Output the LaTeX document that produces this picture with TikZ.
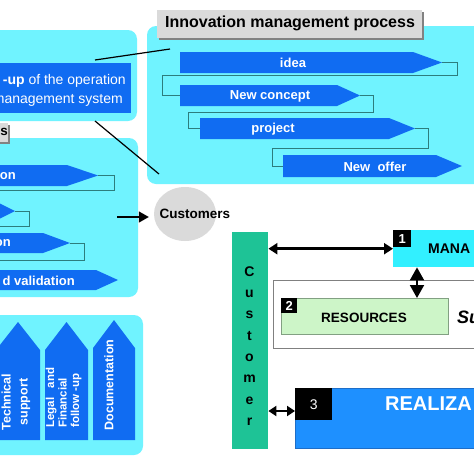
\documentclass[tikz,border=0pt]{standalone}
\usepackage{fontspec}
\setmainfont{Liberation Sans}
\usetikzlibrary{arrows.meta,shapes.geometric}
\definecolor{panelc}{RGB}{112,243,255}
\definecolor{chevc}{RGB}{16,108,242}
\definecolor{stepc}{RGB}{45,125,125}
\definecolor{labelc}{RGB}{218,218,218}
\definecolor{shadc}{RGB}{130,130,130}
\definecolor{custg}{RGB}{30,195,150}
\definecolor{boxcyan}{RGB}{50,240,255}
\definecolor{resg}{RGB}{205,245,200}
\definecolor{realb}{RGB}{30,144,255}
\newcommand\mychev[5]{\fill[chev] (#1,#4) -- ({#2-#3},#4) -- (#2,{(#4+#5)/2}) -- ({#2-#3},#5) -- (#1,#5) -- cycle;}
\newcommand\myvarrow[5]{\fill[chev] (#1,#5) -- (#1,#4) -- ({(#1+#2)/2},#3) -- (#2,#4) -- (#2,#5) -- cycle;}
\begin{document}
\begin{tikzpicture}[x=1pt,y=-1pt,
  panel/.style={fill=panelc, rounded corners=9pt},
  chev/.style={fill=chevc},
  ctxt/.style={text=white, font=\bfseries\fontsize{13}{15}\selectfont, inner sep=0pt},
  stepline/.style={draw=stepc, line width=0.8pt},
  btxt/.style={font=\bfseries\fontsize{13.5}{15}\selectfont, inner sep=0pt},
  sq/.style={fill=black, text=white, inner sep=0pt, anchor=north west, font=\bfseries\fontsize{13}{14}\selectfont},
  box/.style={inner sep=0pt, anchor=north west},
  dbl/.style={line width=2.6pt, {Triangle[length=9pt,width=11pt]}-{Triangle[length=9pt,width=11pt]}},
  arr/.style={line width=1.4pt, -{Triangle[length=10pt,width=11pt]}},
  conn/.style={draw=black, line width=1.2pt}
]
\useasboundingbox (0,0) rectangle (474,474);
\clip (0,0) rectangle (474,474);
\fill[white] (0,0) rectangle (474,474);

% panels
\path[panel] (-12,30) rectangle (137,121);
\path[panel] (147,26) rectangle (500,184);
\path[panel] (-12,138) rectangle (138,297);
\path[panel] (-12,315) rectangle (143,455);

% top-left blue box
\fill[chevc] (-12,63) rectangle (131,113);
\node[anchor=east, text=white, font=\fontsize{14}{15}\selectfont, inner sep=0pt] (tl1) at (126,81) {\textbf{-up} of the operation};
\node[anchor=east, text=white, font=\fontsize{14}{15}\selectfont, inner sep=0pt] (tl2) at (123,100) {management system};

% gray label s
\fill[shadc] (-12,125) rectangle (10,144);
\fill[labelc] (-12,123) rectangle (8,142);
\node[btxt, anchor=east] (slab) at (8,132) {s};

% Innovation label
\fill[shadc] (159,12) rectangle (424,40);
\fill[labelc] (157,10) rectangle (422,38);
\node[font=\bfseries\fontsize{16}{18}\selectfont, inner sep=0pt] (ilab) at (290,23) {Innovation management process};

% connecting lines
\coordinate (l1a) at (95,60);
\coordinate (l1b) at (170,49);
\coordinate (l2a) at (95,121);
\coordinate (l2b) at (159,174);
\draw[conn] (l1a) -- (l1b);
\draw[conn] (l2a) -- (l2b);

% top-right chevrons and steps
\draw[stepline] (442,62.5) -- (457,62.5) -- (457,75) -- (162,75) -- (162,95.5) -- (180,95.5);
\draw[stepline] (360,95.5) -- (373,95.5) -- (373,112) -- (188,112) -- (188,128.5) -- (200,128.5);
\draw[stepline] (415,128.5) -- (428,128.5) -- (428,148) -- (272,148) -- (272,166) -- (283,166);
\mychev{180}{442}{29}{52}{73}
\mychev{180}{360}{23}{85}{106}
\mychev{200}{415}{26}{118}{139}
\mychev{283}{462}{26}{155}{177}
\node[ctxt] (idea) at (293,63) {idea};
\node[ctxt] (nconc) at (270,96) {New concept};
\node[ctxt] (proj) at (273,129) {project};
\node[ctxt] (noff) at (375,166.5) {New\ \ offer};

% middle-left chevrons
\draw[stepline] (98,175.5) -- (114,175.5) -- (114,190) -- (-12,190);
\draw[stepline] (15,211) -- (29,211) -- (29,226) -- (-12,226);
\draw[stepline] (70,243) -- (84,243) -- (84,260) -- (-12,260);
\mychev{-12}{98}{31}{165}{186}
\mychev{-12}{15}{18}{202}{220}
\mychev{-12}{70}{27}{233}{253}
\mychev{-12}{118}{22}{270}{290}
\node[ctxt, anchor=east] (m1) at (16,176) {on};
\node[ctxt, anchor=east] (m3) at (11,243.5) {on};
\node[ctxt, anchor=east] (m4) at (75,280.5) {d validation};

% bottom-left vertical arrows
\myvarrow{-4}{40}{322}{350}{440}
\myvarrow{45}{88}{322}{350}{440}
\myvarrow{93}{135}{320}{348}{440}
\node[ctxt, rotate=90, align=center, font=\bfseries\fontsize{12.5}{17}\selectfont] (tech) at (16,402) {Technical\\support};
\node[ctxt, rotate=90, align=left, anchor=north west, font=\bfseries\fontsize{11.5}{12.5}\selectfont] (legal) at (45.5,428) {Legal\ \ \ and\\Financial\\follow -up};
\node[ctxt, rotate=90, font=\bfseries\fontsize{12.5}{15}\selectfont] (doc) at (109,385) {Documentation};

% Customers
\node[ellipse, fill=labelc, minimum width=62pt, minimum height=54pt, inner sep=0pt] (custc) at (185,214) {};
\node[btxt] (custt) at (195,214) {Customers};
\coordinate (arrs) at (117,217);
\draw[arr] (arrs) -- ([xshift=-5pt]custc.west |- arrs);

% right side
\node[box, fill=custg, minimum width=36pt, minimum height=217pt] (cust) at (232,232) {};
\foreach \l [count=\i from 0] in {C,u,s,t,o,m,e,r}
  \node[btxt, font=\bfseries\fontsize{14}{15}\selectfont] (cl\i) at (249.5,{272+\i*21.4}) {\l};

\node[box, fill=boxcyan, minimum width=100pt, minimum height=37pt] (box1) at (393,230) {};
\node[sq, minimum width=18pt, minimum height=17pt] (sq1) at (393,230) {1};
\node[btxt, anchor=west, font=\bfseries\fontsize{14}{15}\selectfont] (mana) at (428,249) {MANA};

\node[box, draw=gray, fill=white, line width=0.8pt, minimum width=220pt, minimum height=68pt] (outer) at (273,280) {};
\node[box, draw={rgb,255:red,130;green,160;blue,130}, fill=resg, line width=0.8pt, minimum width=167pt, minimum height=36pt] (box2) at (281,298) {};
\node[sq, minimum width=16pt, minimum height=15pt] (sq2) at (281,298) {2};
\node[btxt] (res) at (364,318) {RESOURCES};
\node[anchor=west, font=\bfseries\itshape\fontsize{18}{19}\selectfont, inner sep=0pt] (su) at (457,317) {Su};

\node[box, draw={rgb,255:red,30;green,110;blue,200}, fill=realb, line width=0.6pt, minimum width=200pt, minimum height=60pt] (box3) at (295,388) {};
\node[sq, minimum width=37pt, minimum height=32pt, font=\fontsize{14}{15}\selectfont] (sq3) at (295,388) {3};
\node[anchor=west, text=white, font=\bfseries\fontsize{20}{22}\selectfont, inner sep=0pt] (real) at (385,404) {REALIZA};

% double arrows
\draw[dbl] (cust.east |- box1.west) -- (box1.west);
\coordinate (b3a) at (295,411);
\draw[dbl, line width=2pt, {Triangle[length=8pt,width=10pt]}-{Triangle[length=8pt,width=10pt]}] (cust.east |- b3a) -- (b3a);
\coordinate (va) at (417,0);
\draw[dbl, line width=2pt, {Triangle[length=13pt,width=14pt]}-{Triangle[length=13pt,width=14pt]}] (va |- box1.south) -- (va |- box2.north);
\end{tikzpicture}
\end{document}
